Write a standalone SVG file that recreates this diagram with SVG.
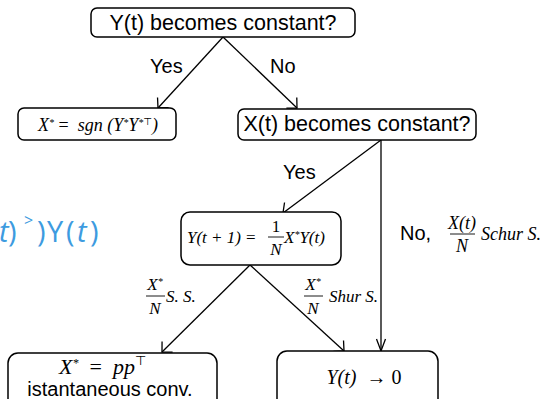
<svg xmlns="http://www.w3.org/2000/svg" width="547" height="399" viewBox="0 0 547 399">
<style>
.box{fill:#fff;stroke:#000;stroke-width:1.5}
.ln{fill:none;stroke:#000;stroke-width:1.3}
.s{font-family:"Liberation Sans",Arial,sans-serif;fill:#000}
.m{font-family:"Liberation Serif","Times New Roman",serif;font-style:italic;fill:#000}
.u{font-style:normal}
.bar{stroke:#000;stroke-width:0.9}
.blue{font-family:"Open Sans","Noto Sans",sans-serif;fill:#3d9be0}
</style>
<defs>
<marker id="aw" markerUnits="userSpaceOnUse" markerWidth="20" markerHeight="20" viewBox="-10 -10 20 20" refX="0" refY="0" orient="auto">
<path d="M-7.5,-7.5 L0,0 L-7.5,7.5" fill="none" stroke="#000" stroke-width="1.3"/>
</marker>
<marker id="an" markerUnits="userSpaceOnUse" markerWidth="24" markerHeight="20" viewBox="-14 -10 24 20" refX="0" refY="0" orient="auto">
<path d="M-12,-4.5 L0,0 L-12,4.5" fill="none" stroke="#000" stroke-width="1.3"/>
</marker>
</defs>

<g id="connectors">
<line class="ln" x1="223" y1="37" x2="158" y2="108" marker-end="url(#aw)"/>
<line class="ln" x1="223" y1="37" x2="297" y2="108" marker-end="url(#aw)"/>
<line class="ln" x1="381" y1="140" x2="283" y2="213" marker-end="url(#aw)"/>
<line class="ln" x1="381" y1="140" x2="381" y2="351" marker-end="url(#an)"/>
<line class="ln" x1="250" y1="265" x2="162" y2="352" marker-end="url(#aw)"/>
<line class="ln" x1="250" y1="265" x2="344" y2="351" marker-end="url(#aw)"/>
<text class="s" x="150" y="73" font-size="20">Yes</text>
<text class="s" x="270" y="73" font-size="20">No</text>
<text class="s" x="283" y="179" font-size="20">Yes</text>
<g id="label-no-schur">
<text class="s" x="400" y="240" font-size="20">No,</text>
<text class="m" x="462" y="229" font-size="18" text-anchor="middle">X(t)</text>
<line class="bar" x1="450" y1="234" x2="475" y2="234"/>
<text class="m" x="462" y="252" font-size="18" text-anchor="middle">N</text>
<text class="m" x="481" y="240" font-size="18">Schur S.</text>
</g>
<g id="label-ss">
<text class="m" x="155" y="290" font-size="17" text-anchor="middle">X<tspan font-size="10" dy="-5">*</tspan></text>
<line class="bar" x1="146" y1="296" x2="165" y2="296"/>
<text class="m" x="155" y="314" font-size="17" text-anchor="middle">N</text>
<text class="m" x="166" y="302" font-size="17">S. S.</text>
</g>
<g id="label-shur">
<text class="m" x="313" y="290" font-size="17" text-anchor="middle">X<tspan font-size="10" dy="-5">*</tspan></text>
<line class="bar" x1="304" y1="296" x2="323" y2="296"/>
<text class="m" x="313" y="314" font-size="17" text-anchor="middle">N</text>
<text class="m" x="329" y="302" font-size="17">Shur S.</text>
</g>
</g>

<g id="node-top">
<rect class="box" x="91" y="8" width="264" height="29" rx="6"/>
<text class="s" x="223" y="30" font-size="21.5" text-anchor="middle">Y(t) becomes constant?</text>
</g>

<g id="node-sgn">
<rect class="box" x="18" y="108" width="158" height="32" rx="6"/>
<text class="m" x="98" y="131" font-size="18" text-anchor="middle">X<tspan font-size="10" dy="-5">*</tspan><tspan dy="5" class="u">&#160;=&#160;&#160;</tspan><tspan>sgn (Y</tspan><tspan font-size="10" dy="-5">*</tspan><tspan dy="5">Y</tspan><tspan font-size="10" dy="-5">*</tspan><tspan class="u" font-family="'DejaVu Sans',sans-serif" font-size="10" dy="-1">⊤</tspan><tspan dy="6">)</tspan></text>
</g>

<g id="node-xt">
<rect class="box" x="238" y="109" width="238" height="31" rx="6"/>
<text class="s" x="357" y="131" font-size="21.5" text-anchor="middle">X(t) becomes constant?</text>
</g>

<g id="node-update">
<rect class="box" x="181" y="212" width="160" height="53" rx="9"/>
<text class="m" x="187" y="243" font-size="17">Y(t + 1)</text>
<text class="m u" x="246" y="243" font-size="17">=</text>
<text class="m u" x="276" y="232" font-size="17" text-anchor="middle">1</text>
<line class="bar" x1="268" y1="237" x2="284" y2="237"/>
<text class="m" x="276" y="255" font-size="17" text-anchor="middle">N</text>
<text class="m" x="284" y="243" font-size="17">X<tspan font-size="10" dy="-5">*</tspan><tspan dy="5">Y(t)</tspan></text>
</g>

<g id="node-inst">
<rect class="box" x="8" y="353" width="209" height="60" rx="10"/>
<text class="m" x="59" y="374" font-size="22">X<tspan font-size="12" dy="-7">*</tspan><tspan dy="7" class="u">&#160;&#160;=&#160;&#160;</tspan>pp<tspan class="u" font-family="'DejaVu Sans',sans-serif" font-size="13" dy="-9">⊤</tspan></text>
<text class="s" x="110" y="396" font-size="20" text-anchor="middle">istantaneous conv.</text>
</g>

<g id="node-zero">
<rect class="box" x="277" y="351" width="161" height="60" rx="10"/>
<text class="m" x="364" y="384" font-size="20" text-anchor="middle">Y(t)&#160;&#160;<tspan class="u">→ 0</tspan></text>
</g>

<g id="fragment-blue">
<text class="blue" y="242" font-size="29"><tspan x="-1" font-style="italic">t</tspan><tspan x="8">)</tspan><tspan x="24" y="226" font-size="16">&gt;</tspan><tspan x="37" y="242">)</tspan><tspan x="47">Y</tspan><tspan x="66">(</tspan><tspan x="77" font-style="italic">t</tspan><tspan x="90">)</tspan></text>
</g>
</svg>
